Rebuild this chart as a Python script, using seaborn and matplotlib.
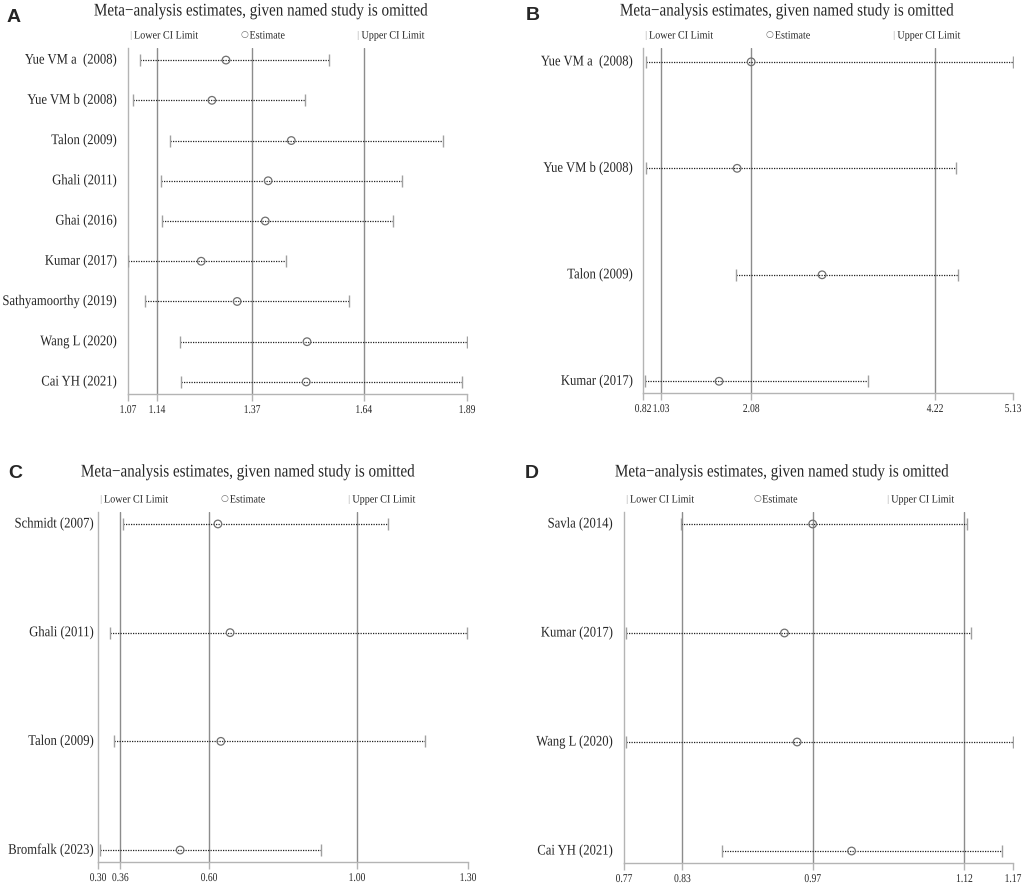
import matplotlib
matplotlib.use("Agg")
import matplotlib.pyplot as plt
import matplotlib.transforms as mtransforms
from matplotlib.patheffects import AbstractPathEffect
import numpy as np
import pandas as pd
import seaborn as sns

# ---- panel A ----
studies_a = ["Yue VM a  (2008)", "Yue VM b (2008)", "Talon (2009)", "Ghali (2011)", "Ghai (2016)",
             "Kumar (2017)", "Sathyamoorthy (2019)", "Wang L (2020)", "Cai YH (2021)"]
est_a = [1.307, 1.273, 1.465, 1.409, 1.402, 1.247, 1.334, 1.503, 1.501]
low_a = [1.099, 1.082, 1.172, 1.150, 1.152, 1.070, 1.111, 1.196, 1.198]
upp_a = [1.557, 1.499, 1.833, 1.733, 1.712, 1.453, 1.605, 1.891, 1.879]
ref_a = [1.14, 1.37, 1.64]
ticks_a = [1.07, 1.14, 1.37, 1.64, 1.89]
ticklabels_a = ["1.07", "1.14", "1.37", "1.64", "1.89"]

# ---- panel B ----
studies_b = ["Yue VM a  (2008)", "Yue VM b (2008)", "Talon (2009)", "Kumar (2017)"]
est_b = [2.08, 1.916, 2.906, 1.706]
low_b = [0.855, 0.855, 1.904, 0.843]
upp_b = [5.13, 4.468, 4.49, 3.442]
ref_b = [1.03, 2.08, 4.22]
ticks_b = [0.82, 1.03, 2.08, 4.22, 5.13]
ticklabels_b = ["0.82", "1.03", "2.08", "4.22", "5.13"]

# ---- panel C ----
studies_c = ["Schmidt (2007)", "Ghali (2011)", "Talon (2009)", "Bromfalk (2023)"]
est_c = [0.624, 0.657, 0.632, 0.522]
low_c = [0.368, 0.332, 0.343, 0.305]
upp_c = [1.084, 1.297, 1.184, 0.902]
ref_c = [0.36, 0.60, 1.00]
ticks_c = [0.30, 0.36, 0.60, 1.00, 1.30]
ticklabels_c = ["0.30", "0.36", "0.60", "1.00", "1.30"]

# ---- panel D ----
studies_d = ["Savla (2014)", "Kumar (2017)", "Wang L (2020)", "Cai YH (2021)"]
est_d = [0.964, 0.935, 0.948, 1.004]
low_d = [0.829, 0.772, 0.772, 0.871]
upp_d = [1.123, 1.127, 1.170, 1.159]
ref_d = [0.83, 0.964, 1.12]
ticks_d = [0.77, 0.83, 0.964, 1.12, 1.17]
ticklabels_d = ["0.77", "0.83", "0.97", "1.12", "1.17"]

TITLE = "Meta\u2212analysis estimates, given named study is omitted"
SERIF = ["Liberation Serif", "DejaVu Serif"]
W, H = 1026, 885

sns.set_style("white")
plt.rcParams["font.family"] = SERIF

fig = plt.figure(figsize=(W / 100, H / 100), dpi=100)


class Squeeze(AbstractPathEffect):
    """Narrow a text horizontally about its anchor point (the reference uses a condensed Times)."""

    def __init__(self, sx):
        super().__init__()
        self.sx = sx
        self.artist = None

    def draw_path(self, renderer, gc, tpath, affine, rgbFace=None):
        x0 = self.artist.get_transform().transform(self.artist.get_position())[0]
        squeeze = mtransforms.Affine2D().translate(-x0, 0).scale(self.sx, 1).translate(x0, 0)
        renderer.draw_path(gc, tpath, affine + squeeze, rgbFace)


def narrow(txt, sx=0.88):
    pe = Squeeze(sx)
    pe.artist = txt
    txt.set_path_effects([pe])
    return txt


def px_axes(left, right, top, bottom):
    return fig.add_axes([left / W, 1 - bottom / H, (right - left) / W, (bottom - top) / H])


def draw_panel(ax, box, studies, est, low, upp, refs, ticks, ticklabels, ylim, gap):
    left, right, top, bottom = box
    df = pd.DataFrame({"Study": studies, "Estimate": est, "Lower": low, "Upper": upp,
                       "row": np.arange(len(studies))})
    for x in refs:
        ax.axvline(x, color="#8c8c8c", lw=1.0, zorder=1)
    ax.hlines(df["row"], df["Lower"], df["Upper"], colors="#222222",
              linestyles=(0, (1, 1)), lw=0.9, zorder=2)
    for col in ["Lower", "Upper"]:
        ax.plot(df[col], df["row"], ls="none", marker="|", ms=8, mew=1.0,
                color="#a0a0a0", zorder=3)
    sns.scatterplot(data=df, x="Estimate", y="row", ax=ax, marker="o", s=30,
                    facecolors="none", edgecolor="#707070", linewidth=0.9,
                    zorder=4, legend=False)
    ax.set_xlim(ticks[0], ticks[-1])
    ax.set_ylim(ylim)
    ax.set_yticks([])
    ax.set_xticks(ticks)
    ax.set_xticklabels([])
    ax.set_xlabel("")
    ax.set_ylabel("")
    for side in ["top", "right"]:
        ax.spines[side].set_visible(False)
    for side in ["left", "bottom"]:
        ax.spines[side].set_color("#b4b4b4")
        ax.spines[side].set_linewidth(1.0)
    ax.tick_params(axis="x", length=5, width=1.0, color="#b4b4b4", bottom=True)

    # study labels
    ytr = ax.get_yaxis_transform() + mtransforms.ScaledTranslation(-gap / 100, 0, fig.dpi_scale_trans)
    for r, name in zip(df["row"], df["Study"]):
        narrow(ax.text(0, r, name, transform=ytr, ha="right", va="center", fontsize=10.6), 0.86)

    # tick labels
    xtr = ax.get_xaxis_transform() + mtransforms.ScaledTranslation(0, -10 / 100, fig.dpi_scale_trans)
    for v, lab in zip(ticks, ticklabels):
        narrow(ax.text(v, 0, lab, transform=xtr, ha="center", va="top", fontsize=8.6), 0.8)

    # key row above the plot
    width = right - left
    ky = 1 - (top - 12) / H
    kw = dict(fontsize=8.1, va="center", ha="left")
    fig.text((left + 1) / W, ky, "|", color="#a0a0a0", **kw)
    narrow(fig.text((left + 6) / W, ky, "Lower CI Limit", **kw), 0.9)
    fig.text((left + 0.332 * width) / W, 1 - (top - 13) / H, "\u25cb", color="#707070",
             fontsize=6.5, va="center", ha="left", family=["DejaVu Sans"])
    narrow(fig.text((left + 0.332 * width + 9) / W, ky, "Estimate", **kw), 0.9)
    fig.text((left + 0.674 * width) / W, ky, "|", color="#a0a0a0", **kw)
    narrow(fig.text((left + 0.674 * width + 5) / W, ky, "Upper CI Limit", **kw), 0.9)


box_a = (128, 467, 48, 394)
draw_panel(px_axes(*box_a), box_a, studies_a, est_a, low_a, upp_a, ref_a, ticks_a, ticklabels_a,
           (8.3, -0.3), 11)
box_b = (643, 1013, 48, 393)
draw_panel(px_axes(*box_b), box_b, studies_b, est_b, low_b, upp_b, ref_b, ticks_b, ticklabels_b,
           (3.11, -0.13), 10)
box_c = (98, 468, 512, 862)
draw_panel(px_axes(*box_c), box_c, studies_c, est_c, low_c, upp_c, ref_c, ticks_c, ticklabels_c,
           (3.11, -0.11), 4)
box_d = (624, 1013, 512, 863)
draw_panel(px_axes(*box_d), box_d, studies_d, est_d, low_d, upp_d, ref_d, ticks_d, ticklabels_d,
           (3.11, -0.11), 11)

for x, y in [(261, 11), (787, 11), (248, 472), (782, 472)]:
    narrow(fig.text(x / W, 1 - y / H, TITLE, ha="center", va="center", fontsize=12.8), 0.85)
for x, y, lab in [(7, 17, "A"), (526, 16, "B"), (8, 474, "C"), (525, 474, "D")]:
    fig.text(x / W, 1 - y / H, lab, ha="left", va="center", fontsize=14,
             fontweight="bold", family=["Liberation Sans", "DejaVu Sans"])

fig.savefig("out.png", dpi=100, facecolor="white")
